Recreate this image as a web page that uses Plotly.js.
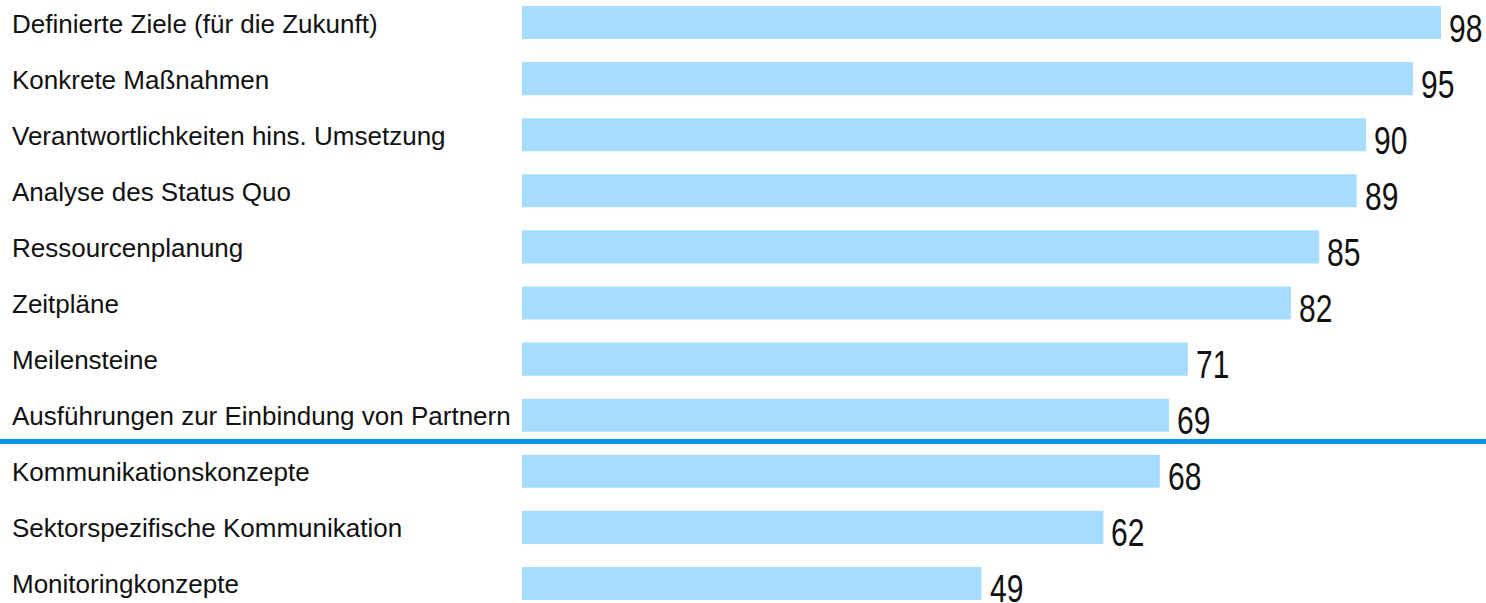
<!DOCTYPE html>
<html>
<head>
<meta charset="utf-8">
<script src="https://cdn.plot.ly/plotly-3.0.1.min.js"></script>
<style>
html,body{margin:0;padding:0;background:#fff;}
#chart{width:1486px;height:603px;}
.valnarrow{transform-box:fill-box;transform-origin:left center;transform:scaleX(0.79);}
</style>
</head>
<body>
<div id="chart"></div>
<script>
const categories = [
  "Definierte Ziele (für die Zukunft)",
  "Konkrete Maßnahmen",
  "Verantwortlichkeiten hins. Umsetzung",
  "Analyse des Status Quo",
  "Ressourcenplanung",
  "Zeitpläne",
  "Meilensteine",
  "Ausführungen zur Einbindung von Partnern",
  "Kommunikationskonzepte",
  "Sektorspezifische Kommunikation",
  "Monitoringkonzepte"
];
const values = [98, 95, 90, 89, 85, 82, 71, 69, 68, 62, 49];
const separatorAfterIndex = 7;

const W = 1486, H = 603;
const labelFont = {family: "Liberation Sans, Arial, sans-serif", size: 26, color: "#111"};
const valueFont = {family: "Liberation Sans, Arial, sans-serif", size: 38, color: "#111"};

const annotations = [];
categories.forEach((c, i) => {
  annotations.push({
    xref: "paper", yref: "y", x: 10 / W, y: c, text: c,
    xanchor: "left", yanchor: "middle", showarrow: false, font: labelFont, yshift: -1
  });
});
categories.forEach((c, i) => {
  annotations.push({
    xref: "x", yref: "y", x: values[i], y: c, text: String(values[i]),
    xanchor: "left", yanchor: "middle", showarrow: false, font: valueFont, xshift: 6, yshift: -6
  });
});

const trace = {
  type: "bar", orientation: "h",
  x: values, y: categories,
  marker: {color: "#a6dcff", line: {width: 0}},
  width: 0.59,
  hoverinfo: "none"
};

const layout = {
  width: W, height: H,
  margin: {l: 0, r: 0, t: 0, b: 0, pad: 0},
  paper_bgcolor: "#fff", plot_bgcolor: "#fff",
  showlegend: false,
  xaxis: {range: [-55.66, 102.79], visible: false, fixedrange: true},
  yaxis: {type: "category", range: [10.348, -0.401], visible: false, fixedrange: true},
  shapes: [{
    type: "line", xref: "paper", yref: "y", x0: 0, x1: 1,
    y0: separatorAfterIndex + 0.47, y1: separatorAfterIndex + 0.47,
    line: {color: "#0a91e8", width: 5}
  }],
  annotations: annotations
};

function narrowValues() {
  const texts = document.querySelectorAll("#chart .annotation-text");
  const valSet = new Set(values.map(String));
  texts.forEach((t, idx) => {
    if (idx >= categories.length && valSet.has(t.textContent.trim())) t.classList.add("valnarrow");
  });
}
Plotly.newPlot("chart", [trace], layout, {displayModeBar: false, staticPlot: true}).then(gd => {
  narrowValues();
  gd.on("plotly_afterplot", narrowValues);
});
</script>
</body>
</html>
